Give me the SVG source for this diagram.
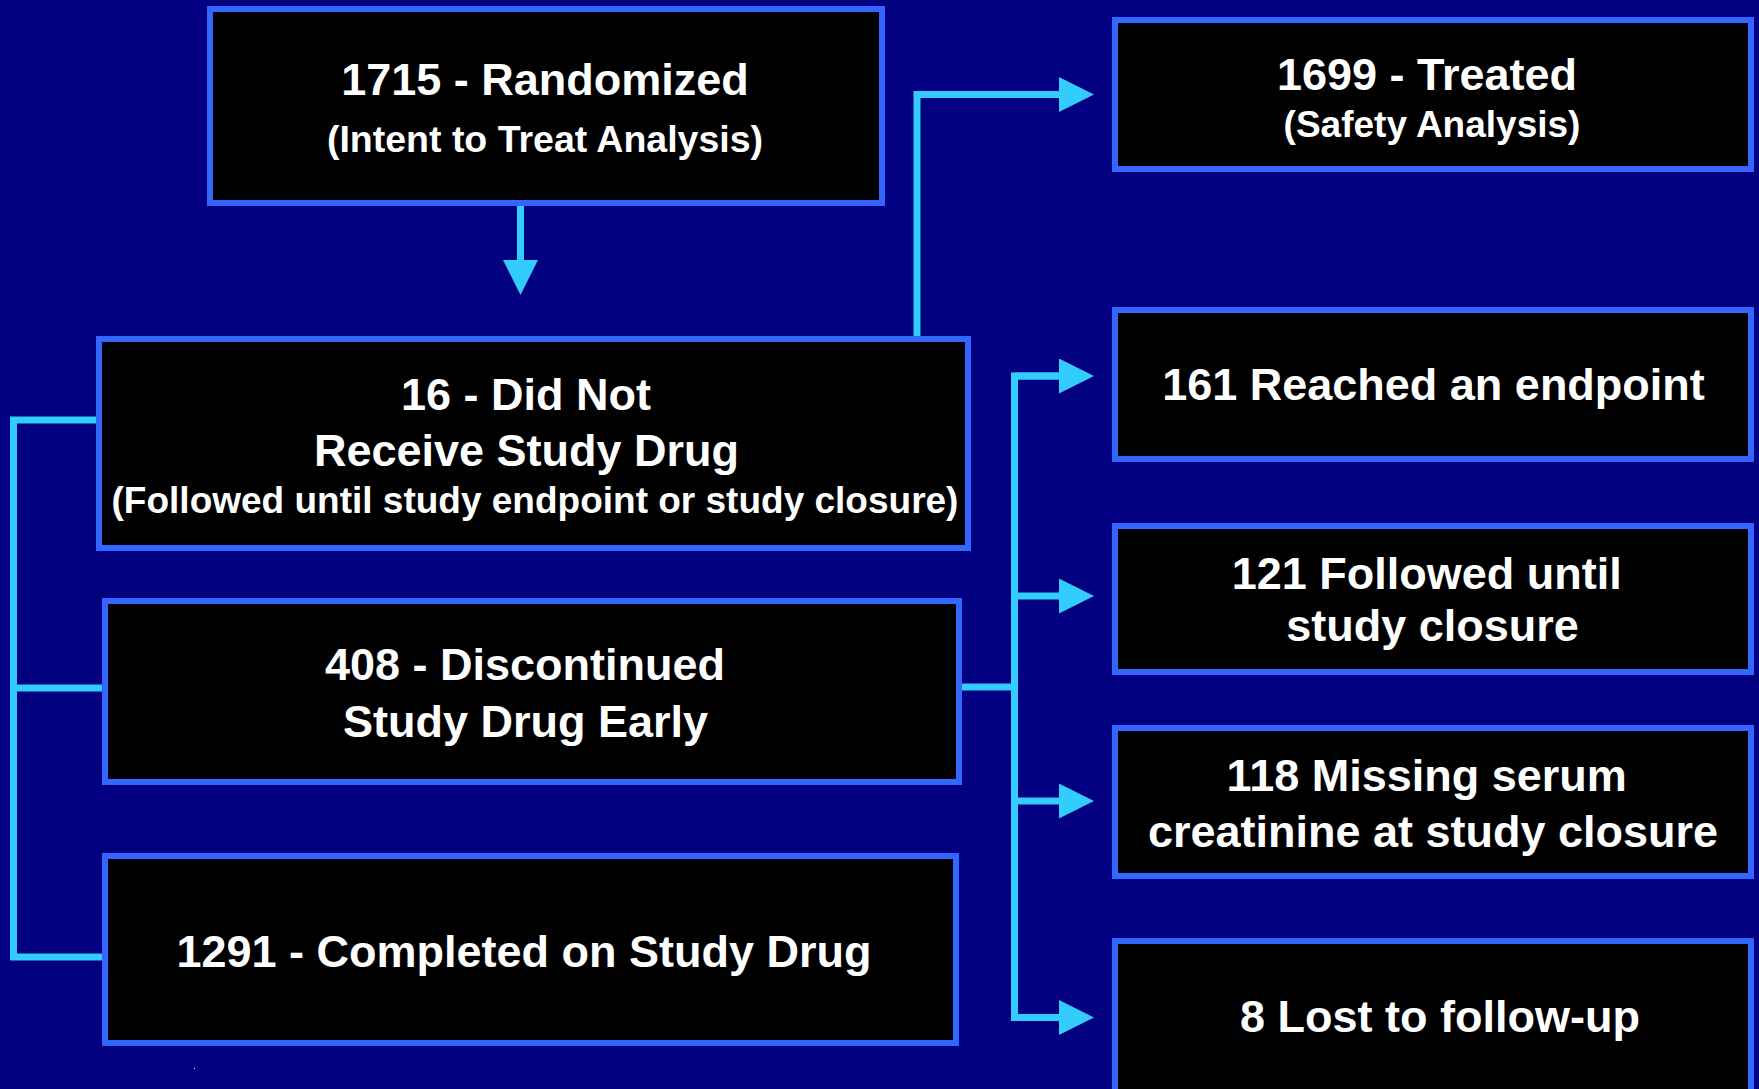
<svg xmlns="http://www.w3.org/2000/svg" width="1759" height="1089" viewBox="0 0 1759 1089">
<style>
.box{fill:#000000;stroke:#3366FF;stroke-width:6}
.t{font-family:"Liberation Sans",Arial,sans-serif;font-weight:bold;fill:#FFFFFF;text-anchor:middle}
.big{font-size:45px}
.sm{font-size:37px}
.conn{fill:none;stroke:#33CCFF;stroke-width:7;stroke-linecap:butt;stroke-linejoin:miter}
</style>
<defs>
<marker id="ah" viewBox="0 0 35 35" refX="0" refY="17.5" markerWidth="35" markerHeight="35" markerUnits="userSpaceOnUse" orient="auto">
<path d="M0,0 L35,17.5 L0,35 Z" fill="#33CCFF"/>
</marker>
</defs>
<rect x="0" y="0" width="1759" height="1089" fill="#000080"/>
<g id="connectors">
<path class="conn" d="M520.5,206 V260" marker-end="url(#ah)"/>
<path class="conn" d="M917,336 V94.5 H1059" marker-end="url(#ah)"/>
<path class="conn" d="M96,420 H13.5 V957 H102"/>
<path class="conn" d="M13.5,688 H102"/>
<path class="conn" d="M962,687 H1014.5"/>
<path class="conn" d="M1059,376 H1014.5 V1017.5 H1059"/>
<path class="conn" d="M1014.5,596 H1059" marker-end="url(#ah)"/>
<path class="conn" d="M1014.5,801 H1059" marker-end="url(#ah)"/>
<path class="conn" d="M1014.5,376 H1059" marker-end="url(#ah)"/>
<path class="conn" d="M1014.5,1017.5 H1059" marker-end="url(#ah)"/>
</g>
<g id="randomized">
<rect class="box" x="210" y="9" width="672" height="194"/>
<text class="t big" x="545" y="95">1715 - Randomized</text>
<text class="t" style="font-size:37.5px" x="545" y="152">(Intent to Treat Analysis)</text>
</g>
<g id="treated">
<rect class="box" x="1115" y="20" width="636" height="149"/>
<text class="t big" x="1427" y="90">1699 - Treated</text>
<text class="t sm" x="1432" y="137">(Safety Analysis)</text>
</g>
<g id="did-not-receive">
<rect class="box" x="99" y="339" width="869" height="209"/>
<text class="t big" x="526" y="410">16 - Did Not</text>
<text class="t big" x="526.5" y="466">Receive Study Drug</text>
<text class="t sm" x="535" y="513">(Followed until study endpoint or study closure)</text>
</g>
<g id="reached-endpoint">
<rect class="box" x="1115" y="310" width="636" height="149"/>
<text class="t big" x="1433.5" y="400">161 Reached an endpoint</text>
</g>
<g id="discontinued">
<rect class="box" x="105" y="601" width="854" height="181"/>
<text class="t big" x="525" y="680">408 - Discontinued</text>
<text class="t big" x="525.5" y="737">Study Drug Early</text>
</g>
<g id="followed-until-closure">
<rect class="box" x="1115" y="526" width="636" height="146"/>
<text class="t big" x="1426.7" y="589">121 Followed until</text>
<text class="t big" x="1432.5" y="641">study closure</text>
</g>
<g id="missing-creatinine">
<rect class="box" x="1115" y="728" width="636" height="148"/>
<text class="t big" x="1426.7" y="791">118 Missing serum</text>
<text class="t big" x="1433" y="847">creatinine at study closure</text>
</g>
<g id="completed">
<rect class="box" x="105" y="856" width="851" height="187"/>
<text class="t big" x="524" y="967">1291 - Completed on Study Drug</text>
</g>
<g id="lost">
<rect class="box" x="1115" y="941" width="636" height="170"/>
<text class="t big" x="1440" y="1032">8 Lost to follow-up</text>
</g>
<rect x="194" y="1068" width="1" height="1" fill="#FFFFFF"/>
</svg>
